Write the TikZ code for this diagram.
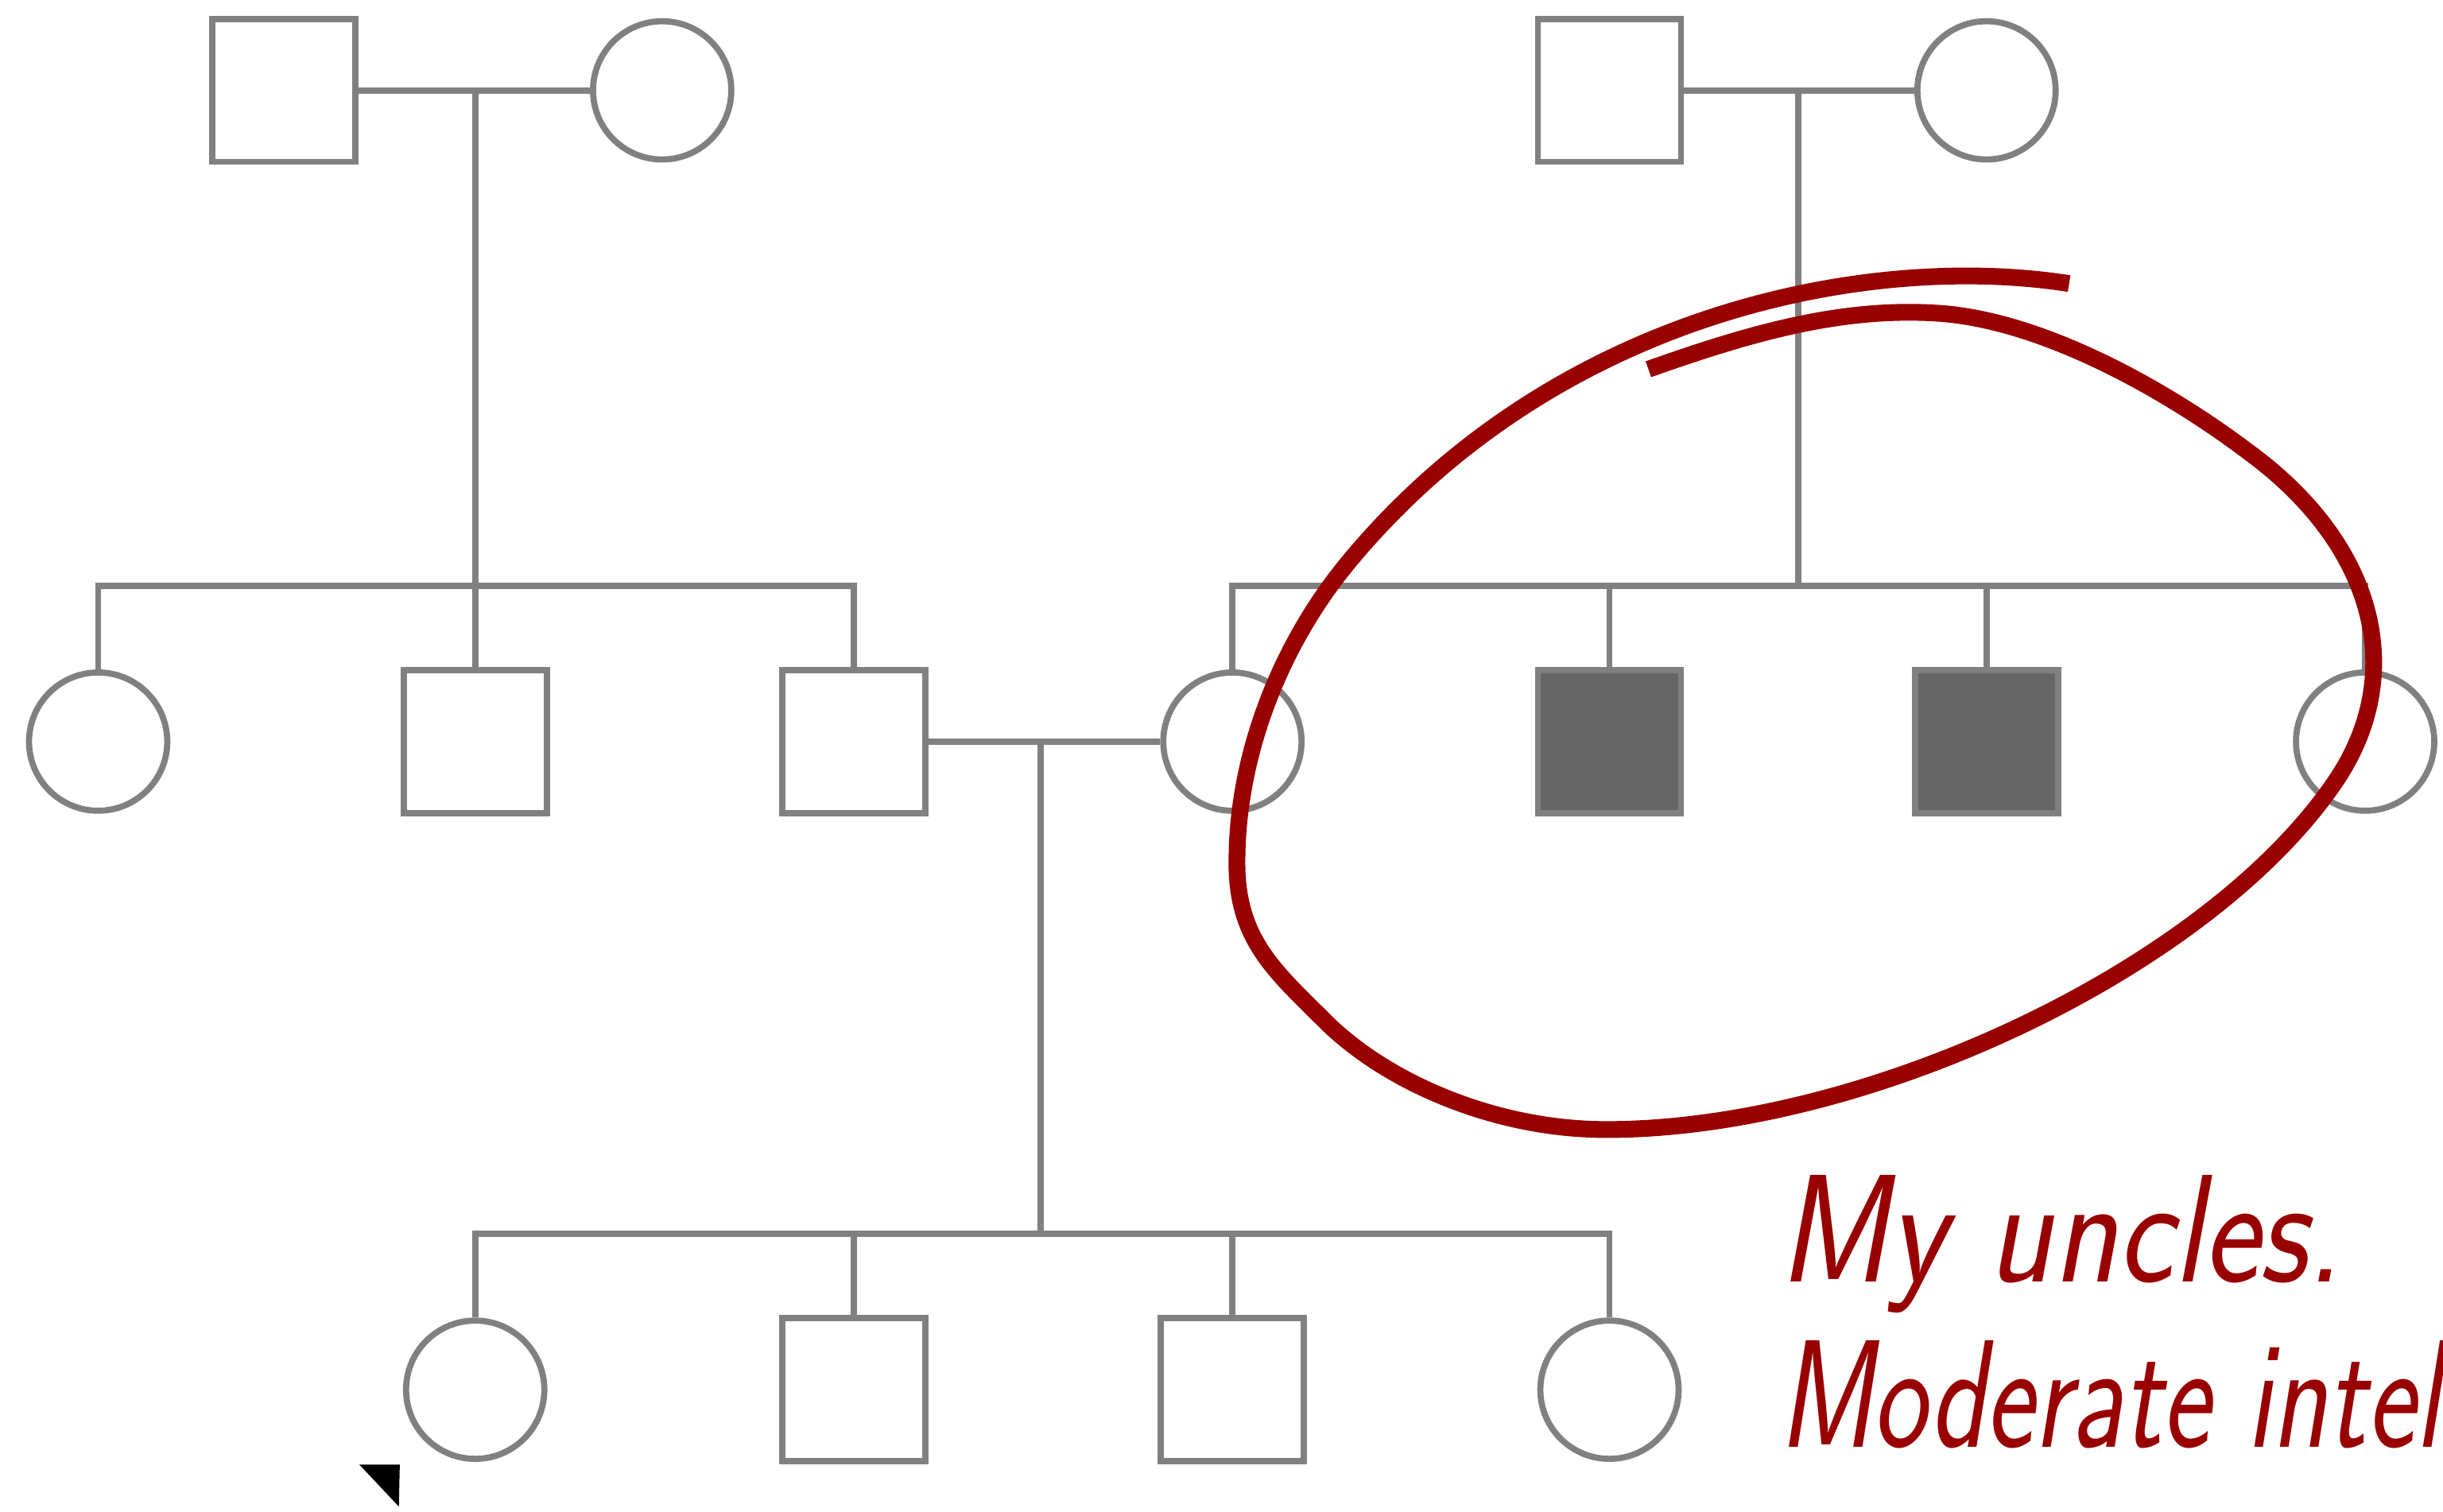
\documentclass[tikz,border=0pt]{standalone}
\usepackage{tikz}
\usetikzlibrary{shapes.geometric}
\definecolor{pedgray}{HTML}{808080}
\definecolor{affgray}{HTML}{666666}
\definecolor{marker}{HTML}{990000}

\begin{document}
\begin{tikzpicture}[x=0.0196cm, y=-0.0196cm, line width=2.2pt, color=pedgray]
\tikzstyle{male} = [rectangle, draw=pedgray, minimum size=1.80cm, inner sep=0pt]
\tikzstyle{female} = [circle, draw=pedgray, minimum size=1.74cm, inner sep=0pt]
\tikzstyle{affected} = [fill=affgray]
\tikzstyle{note} = [text=marker, font=\fontsize{55}{66}\selectfont\sffamily\slshape, transform shape, inner sep=0pt, anchor=base west]
\useasboundingbox (0,0) rectangle (1568,970);
% grandparents
\node[male] (gf1) at (182, 58) {};
\node[female] (gm1) at (425, 58) {};
\node[male] (gf2) at (1033, 58) {};
\node[female] (gm2) at (1275, 58) {};
% parents generation
\node[female] (a1) at (63, 476) {};
\node[male] (a2) at (305, 476) {};
\node[male] (dad) at (548, 476) {};
\node[female] (mom) at (791, 476) {};
\node[male, affected] (u1) at (1033, 476) {};
\node[male, affected] (u2) at (1275, 476) {};
\node[female] (a3) at (1518, 476) {};
% children
\node[female] (c1) at (305, 892) {};
\node[male] (c2) at (548, 892) {};
\node[male] (c3) at (791, 892) {};
\node[female] (c4) at (1033, 892) {};
\coordinate (m1) at (305, 58);
\coordinate (s1) at (305, 376);
\coordinate (m2) at (1154, 58);
\coordinate (s2) at (1154, 376);
\coordinate (m3) at (668, 476);
\coordinate (s3) at (668, 792);
\draw (gf1) -- (gm1);
\draw (m1) -- (s1);
\draw (a1.north) |- (s1) -| (dad.north);
\draw (s1) -- (a2.north);
\draw (gf2) -- (gm2);
\draw (m2) -- (s2);
\draw (mom.north) |- (s2) -| (a3.north);
\draw (u1.north) -- (u1.north |- s2);
\draw (u2.north) -- (u2.north |- s2);
\draw (dad) -- (mom);
\draw (m3) -- (s3);
\draw (c1.north) |- (s3) -| (c4.north);
\draw (c2.north) -- (c2.north |- s3);
\draw (c3.north) -- (c3.north |- s3);
% proband
\fill[black] (230.6, 940) -- (256.6, 940) -- (256, 967) -- cycle;
% the red loop
\draw[marker, line width=6pt] (1328,182)
  .. controls (1200,162) and (1000,200) .. (867,359)
  .. controls (820,415) and (792,490) .. (794,560)
  .. controls (796,605) and (820,625) .. (850,655)
  .. controls (890,695) and (960,725) .. (1031,725)
  .. controls (1200,725) and (1420,620) .. (1500,500)
  .. controls (1545,432) and (1525,350) .. (1443,290)
  .. controls (1390,250) and (1310,205) .. (1243,201)
  .. controls (1180,197) and (1120,215) .. (1058,237);
\node[note, xscale=0.87] (t1) at (1140, 823) {My uncles.};
\node[note, xscale=0.75] (t2) at (1140, 929) {Moderate intel};
\end{tikzpicture}
\end{document}
